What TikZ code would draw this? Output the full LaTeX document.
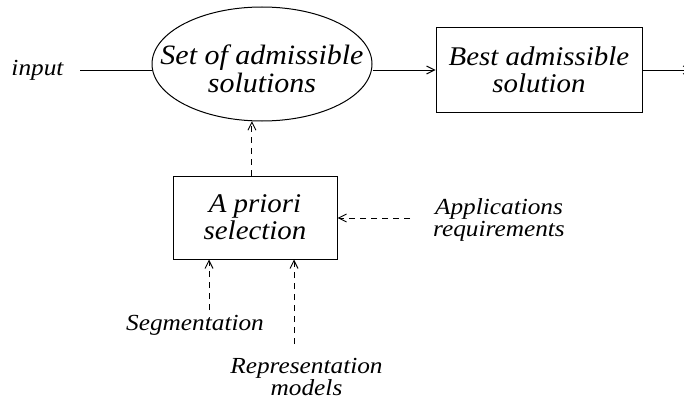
\documentclass[tikz,border=0pt]{standalone}
\usepackage{fontspec}
\setmainfont{Liberation Serif}
\usetikzlibrary{arrows.meta,shapes.geometric}
% widened italic lettering
\newcommand\wideA[1]{\scalebox{1.07}[1]{#1}}
\newcommand\wideB[1]{\scalebox{1.1}[1]{#1}}
\begin{document}
\begin{tikzpicture}[x=1pt,y=-1pt,
  every node/.style={align=center, inner sep=0pt},
  boxtext/.style={font=\fontsize{27}{27}\selectfont\itshape},
  note/.style={font=\fontsize{23}{#1}\selectfont\itshape},
  note/.default=18,
  block/.style={draw, line width=1pt, boxtext},
  cloud/.style={draw, ellipse, line width=1pt, inner xsep=-30pt, inner ysep=0pt,
    minimum width=220pt, minimum height=114pt,
    font=\fontsize{28}{28}\selectfont\itshape},
  flow/.style={line width=0.9pt, -{Straight Barb[length=8pt,width=8pt,line width=0.9pt]}},
  hint/.style={flow, dash pattern=on 6pt off 5pt}]
\useasboundingbox (0,0) rectangle (684,412);
% main chain
\node[cloud] (set) at (262,64) {\rule{0pt}{30pt}\wideA{Set of admissible}\\\wideA{solutions}};
\node[block, minimum width=206pt, minimum height=84pt] (best) at (539,70)
  {\wideA{Best admissible}\\\wideA{solution}};
\node[note, anchor=base] (in) at (37.5,75) {\wideB{input}};
\coordinate (instart) at (80,70);
\coordinate (out) at (692,70);
\draw[line width=0.9pt] (instart) -- (instart -| set.west);
\draw[flow] (set.east |- instart) -- (best.west);
\draw[flow] (best.east) -- (out);
% a priori selection and its inputs
\node[block, minimum width=164pt, minimum height=83pt] (sel) at (255,217.5)
  {\wideA{A priori}\\\wideA{selection}};
\node[note=17] (app) at (499,220) {\wideB{Applications}\\\wideB{requirements}};
\node[note, anchor=base] (seg) at (195,330) {\wideB{Segmentation}};
\node[note=20] (rep) at (306.5,377) {\wideB{Representation}\\\wideB{models}};
\coordinate (append) at (410,218);
\coordinate (segend) at (209,310);
\coordinate (repend) at (294,344);
\draw[hint] (sel.north -| set.-100) -- (set.-100);
\draw[hint] (append) -- (sel.east |- append);
\draw[hint] (segend) -- (sel.south -| segend);
\draw[hint] (repend) -- (sel.south -| repend);
\end{tikzpicture}
\end{document}
